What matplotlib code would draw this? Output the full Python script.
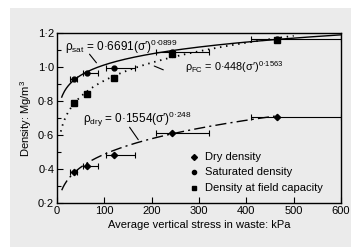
import numpy as np
import matplotlib
matplotlib.use("Agg")
import matplotlib.pyplot as plt
from matplotlib.patches import Rectangle

plt.rcParams['font.family'] = ['Liberation Sans', 'DejaVu Sans']
plt.rcParams['mathtext.fontset'] = 'custom'
plt.rcParams['mathtext.rm'] = 'Liberation Sans'
plt.rcParams['mathtext.it'] = 'Liberation Sans:italic'
plt.rcParams['mathtext.bf'] = 'Liberation Sans:bold'

# Data
x_pts = [35, 64, 120, 242, 464]
x_err_lo = [8, 10, 16, 32, 54]
x_err_hi = [8, 22, 45, 79, 136]
dry = [0.385, 0.418, 0.484, 0.61, 0.704]
sat = [0.928, 0.963, 0.996, 1.088, 1.163]
fc = [0.786, 0.840, 0.934, 1.078, 1.158]

# Fit curves
sat_a, sat_b = 0.6691, 0.0899
fc_a, fc_b = 0.448, 0.1563
dry_a, dry_b = 0.1554, 0.248

x_ticks = [0, 100, 200, 300, 400, 500, 600]
y_ticks = [0.2, 0.4, 0.6, 0.8, 1.0, 1.2]

W, H = 351, 247
fig = plt.figure(figsize=(W/100, H/100), dpi=100)
fig.patch.set_facecolor('white')
fig.patches.append(Rectangle((10/W, 0), (W-10)/W, (H-8)/H, transform=fig.transFigure,
                             facecolor='#ebebeb', edgecolor='none', zorder=-10))

ax = fig.add_axes([57/W, 1-203/H, (341-57)/W, (203-33)/H])
ax.set_facecolor('#ebebeb')
ax.set_xlim(0, 600)
ax.set_ylim(0.2, 1.2)

xs = np.linspace(10, 600, 300)
ax.plot(xs, sat_a*xs**sat_b, color='black', lw=1.0)
xf = np.linspace(8, 500, 300)
ax.plot(xf, fc_a*xf**fc_b, color='black', lw=1.3, ls=(0, (0.8, 2.6)))
xd = np.linspace(10, 460, 300)
ax.plot(xd, dry_a*xd**dry_b, color='black', lw=1.0, ls=(0, (8, 3, 1.5, 3)))

xerr = [x_err_lo, x_err_hi]
ek = dict(ecolor='black', elinewidth=0.8, capsize=2.5, capthick=0.8, color='black', ls='none')
ax.errorbar(x_pts, sat, xerr=xerr, marker='o', ms=3.5, **ek)
ax.errorbar(x_pts, dry, xerr=xerr, marker='D', ms=3.2, **ek)
ax.plot(x_pts, fc, ls='none', marker='s', ms=4, color='black')

# Annotations
fs = 8
afs = 8.5
ax.text(17, 1.12, "ρ$_{\\mathrm{sat}}$ = 0·6691(σ′)$^{\\mathrm{0·0899}}$", fontsize=afs, va='center')
ax.annotate('', xy=(87, 1.012), xytext=(65, 1.088),
            arrowprops=dict(arrowstyle='-', color='black', lw=0.8))
ax.text(270, 1.0, "ρ$_{\\mathrm{FC}}$ = 0·448(σ′)$^{\\mathrm{0·1563}}$", fontsize=7.8, va='center')
ax.annotate('', xy=(230, 0.977), xytext=(200, 1.012),
            arrowprops=dict(arrowstyle='-', color='black', lw=0.8))
ax.text(55, 0.69, "ρ$_{\\mathrm{dry}}$ = 0·1554(σ′)$^{\\mathrm{0·248}}$", fontsize=afs, va='center')
ax.annotate('', xy=(175, 0.559), xytext=(150, 0.659),
            arrowprops=dict(arrowstyle='-', color='black', lw=0.8))

# Legend
leg_labels = ['Dry density', 'Saturated density', 'Density at field capacity']
leg_markers = ['D', 'o', 's']
leg_y = [0.47, 0.38, 0.29]
for lab, mk, yy in zip(leg_labels, leg_markers, leg_y):
    ax.plot([289], [yy], marker=mk, ms=3, color='black', ls='none')
    ax.text(313, yy, lab, fontsize=fs, va='center')

ax.set_xticks(x_ticks)
ax.set_xticklabels([str(t) for t in x_ticks], fontsize=fs)
ax.set_yticks(y_ticks)
ax.set_yticklabels([f"{t:.1f}".replace('.', '·') for t in y_ticks], fontsize=fs)
ax.set_yticks(np.arange(0.3, 1.2, 0.2), minor=True)
ax.tick_params(direction='in', length=4, width=0.8, pad=2)
ax.tick_params(which='minor', direction='in', length=3, width=0.8)
for s in ax.spines.values():
    s.set_linewidth(1.0)

ax.set_xlabel('Average vertical stress in waste: kPa', fontsize=fs, labelpad=3)
ax.set_ylabel('Density: Mg/m$^3$', fontsize=fs, labelpad=3)

fig.savefig('out.png', dpi=100, facecolor=fig.get_facecolor())
